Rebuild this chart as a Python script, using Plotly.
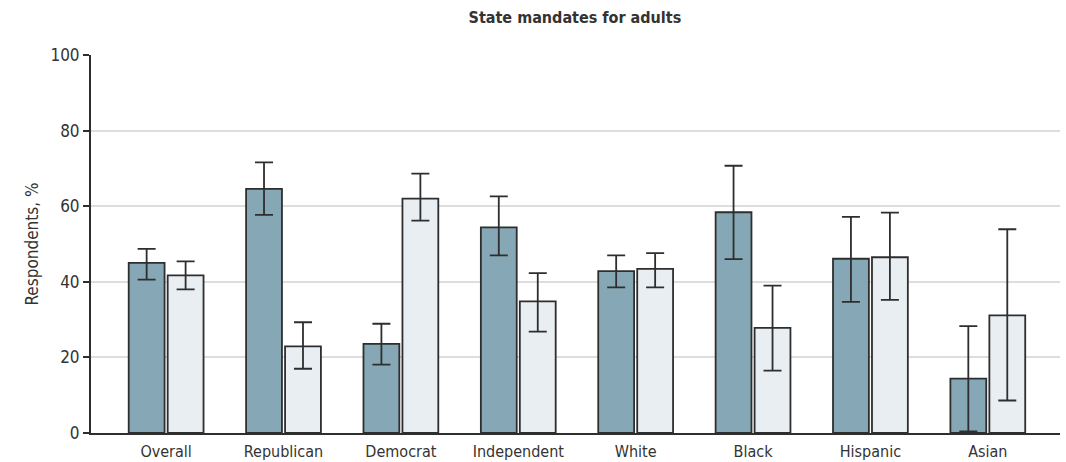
import plotly.graph_objects as go

# Survey support for state mandates for adults, by group (two response series)
categories = ["Overall", "Republican", "Democrat", "Independent", "White", "Black", "Hispanic", "Asian"]

series_a = [45.0, 64.6, 23.6, 54.4, 42.8, 58.4, 46.1, 14.4]
series_a_hi = [48.7, 71.6, 28.9, 62.6, 47.0, 70.7, 57.2, 28.3]
series_a_lo = [40.6, 57.7, 18.1, 47.0, 38.5, 46.0, 34.7, 0.4]

series_b = [41.7, 22.9, 62.0, 34.8, 43.4, 27.8, 46.5, 31.1]
series_b_hi = [45.4, 29.3, 68.6, 42.3, 47.6, 39.0, 58.3, 53.9]
series_b_lo = [38.0, 17.0, 56.2, 26.8, 38.5, 16.5, 35.2, 8.6]

y_ticks = [0, 20, 40, 60, 80, 100]

FONT = "DejaVu Sans Condensed, Roboto, sans-serif"
TEXT = "#333333"
EDGE = "#2e2e2e"

x = list(range(len(categories)))


def err(vals, hi, lo):
    return dict(
        type="data",
        symmetric=False,
        array=[h - v for h, v in zip(hi, vals)],
        arrayminus=[v - l for v, l in zip(vals, lo)],
        color=EDGE,
        thickness=1.8,
        width=9,
    )


fig = go.Figure()
fig.add_trace(go.Bar(
    x=x, y=series_a,
    marker=dict(color="#86a8b6", line=dict(color=EDGE, width=1.8)),
    error_y=err(series_a, series_a_hi, series_a_lo),
    showlegend=False,
))
fig.add_trace(go.Bar(
    x=x, y=series_b,
    marker=dict(color="#e9eef2", line=dict(color=EDGE, width=1.8)),
    error_y=err(series_b, series_b_hi, series_b_lo),
    showlegend=False,
))

fig.update_layout(
    width=1066, height=462,
    margin=dict(l=91, r=6, t=55, b=29),
    paper_bgcolor="white", plot_bgcolor="white",
    barmode="group", bargap=0.336, bargroupgap=0.08,
    font=dict(family=FONT, color=TEXT, size=16),
    title=dict(text="State mandates for adults", x=0.5393, xanchor="center",
               y=0.963, yanchor="middle",
               font=dict(family=FONT, size=16, color=TEXT, weight="bold")),
)
fig.update_xaxes(
    range=[-0.64, 7.615], tickmode="array", tickvals=x, ticktext=categories,
    showgrid=False, showline=True, linecolor=EDGE, linewidth=2,
    ticks="", ticklabelstandoff=3, tickfont=dict(size=16, family=FONT, color=TEXT),
    zeroline=False, fixedrange=True, automargin=False,
)
fig.update_yaxes(
    range=[0, 100], tickmode="array", tickvals=y_ticks,
    showgrid=True, gridcolor="#dddddd", gridwidth=1.5,
    showline=True, linecolor=EDGE, linewidth=2,
    ticks="outside", ticklen=6, tickwidth=2, tickcolor=EDGE,
    tickfont=dict(size=17, family=FONT, color=TEXT),
    title=dict(text="Respondents, %", font=dict(size=17, family=FONT, color=TEXT), standoff=7),
    zeroline=False, fixedrange=True, automargin=False,
)

fig.write_html("out.html")
